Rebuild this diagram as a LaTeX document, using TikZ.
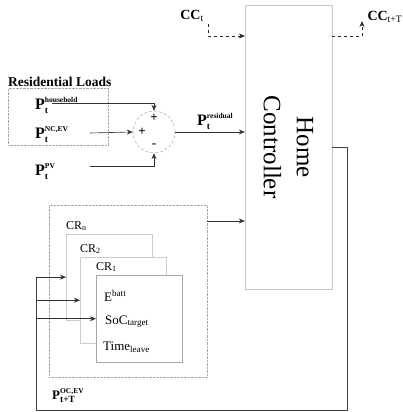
\documentclass[tikz,border=0pt]{standalone}
\usepackage{fontspec}
\setmainfont{Liberation Serif}
\usetikzlibrary{arrows.meta,positioning}

% power variable with stacked super/subscript
\newcommand{\Pvar}[2]{$\mathbf{P}^{\hbox{\fontsize{7.5}{8}\selectfont\bfseries #1}}_{\hbox{\fontsize{9.5}{10}\selectfont\bfseries #2}}$}

\begin{document}
\begin{tikzpicture}[
    x=1pt, y=-1pt,
    arrow/.style={-{Stealth[length=6pt, width=5pt]}, semithick, black!80},
    line/.style={semithick, black!80},
    ctrl/.style={-{Stealth[length=6pt, width=5pt]}, dashed, semithick, black!85},
    crbox/.style={draw=gray!40, fill=white, minimum width=86pt, minimum height=86pt, anchor=north west, inner sep=0pt},
    crlbl/.style={font=\fontsize{12}{13}\selectfont, inner sep=0pt, anchor=south west},
    plbl/.style={font=\fontsize{16}{18}\selectfont, inner sep=0pt, anchor=base west},
    sign/.style={font=\fontsize{13}{13}\selectfont\bfseries, inner sep=0pt},
    item/.style={font=\fontsize{13}{14}\selectfont, inner sep=0pt, anchor=base west}
]
\useasboundingbox (0,0) rectangle (402,412);

% Home controller
\node[draw=gray!45, minimum width=87pt, minimum height=284pt, inner sep=0pt] (hc) at (288.5,147) {};
\node[rotate=-90, align=center, font=\fontsize{25}{33}\selectfont] (hctext) at (hc.center) {Home\\Controller};

% comfort constraints
\node[inner sep=0pt, font=\fontsize{14}{16}\selectfont] (cct) at (192,16) {\textbf{CC}\textsubscript{t}};
\node[inner sep=0pt, font=\fontsize{14}{16}\selectfont] (cctT) at (385,17) {\textbf{CC}\textsubscript{t+T}};
\coordinate (ccin) at (208,24);
\coordinate (ccout) at (362,21);
\coordinate (cclvl) at (0,36);
\draw[ctrl] (ccin) |- (hc.west |- cclvl);
\draw[ctrl] (hc.east |- cclvl) -| (ccout);

% Residential loads
\node[draw=gray!70, densely dotted, minimum width=100pt, minimum height=57pt, anchor=north west, inner sep=0pt] (res) at (8,88) {};
\node[inner sep=0pt, anchor=south west, font=\fontsize{13.5}{15}\selectfont\bfseries] (restitle) at ([yshift=1pt]res.north west) {Residential Loads};

\node[plbl] (phh) at (35,109) {\Pvar{household}{t}};
\node[plbl] (pnc) at (35,138) {\Pvar{NC,EV}{t}};
\node[plbl] (ppv) at (35,175) {\Pvar{PV}{t}};

% summation
\node[draw=gray!80, densely dashed, circle, minimum size=42pt, inner sep=0pt] (sum) at (154,132) {};
\node[sign] (splus1) at (154,118) {+};
\node[sign] (splus2) at (142,132) {+};
\node[sign] (sminus) at (154,146) {-};

\coordinate (hhs) at (52,103);
\coordinate (ncs) at (90,133);
\coordinate (pvs) at (90,166);
\draw[arrow] (hhs) -| (sum.north);
\draw[arrow] (ncs) -- (sum.west);
\draw[arrow] (pvs) -| (sum.south);
\draw[arrow] (sum.east) -- (hc.west |- sum.east);
\node[plbl] (pres) at (197,125) {\Pvar{residual}{t}};

% charging requests
\node[draw=gray!70, densely dotted, minimum width=158pt, minimum height=172pt, anchor=north west, inner sep=0pt] (crall) at (49,205) {};
\draw[arrow] (crall.east |- 0,221) -- (hc.west |- 0,221);

\node[crbox] (crn) at (66,234) {};
\node[crlbl] (crnl) at ([yshift=3pt]crn.north west) {CR\textsubscript{n}};
\node[crbox] (cr2) at (80,257) {};
\node[crlbl] (cr2l) at ([yshift=3pt]cr2.north west) {CR\textsubscript{2}};
\node[crbox, draw=gray!70, minimum height=87pt] (cr1) at (96,275) {};
\node[crlbl] (cr1l) at ([yshift=3pt]cr1.north west) {CR\textsubscript{1}};

\node[item] (ebatt) at (104,301) {E\textsuperscript{batt}};
\node[item] (soc) at (105,324) {SoC\textsubscript{target}};
\node[item] (tleave) at (103,350) {Time\textsubscript{leave}};

% feedback of EV charging power
\coordinate (fbr) at (347,410);
\coordinate (fbl) at (36,410);
\draw[line, thick, black!75] (hc.east |- 0,147) -| (fbr) -- (fbl) -- (fbl |- crn.west);
\draw[arrow] (fbl |- crn.west) -- (crn.west);
\draw[arrow] (fbl |- cr2.west) -- (cr2.west);
\draw[arrow] (fbl |- cr1.west) -- (cr1.west);
\node[inner sep=0pt, anchor=base west, font=\fontsize{13}{14}\selectfont] (poc) at (52,399) {\Pvar{OC,EV}{t+T}};

\end{tikzpicture}
\end{document}
